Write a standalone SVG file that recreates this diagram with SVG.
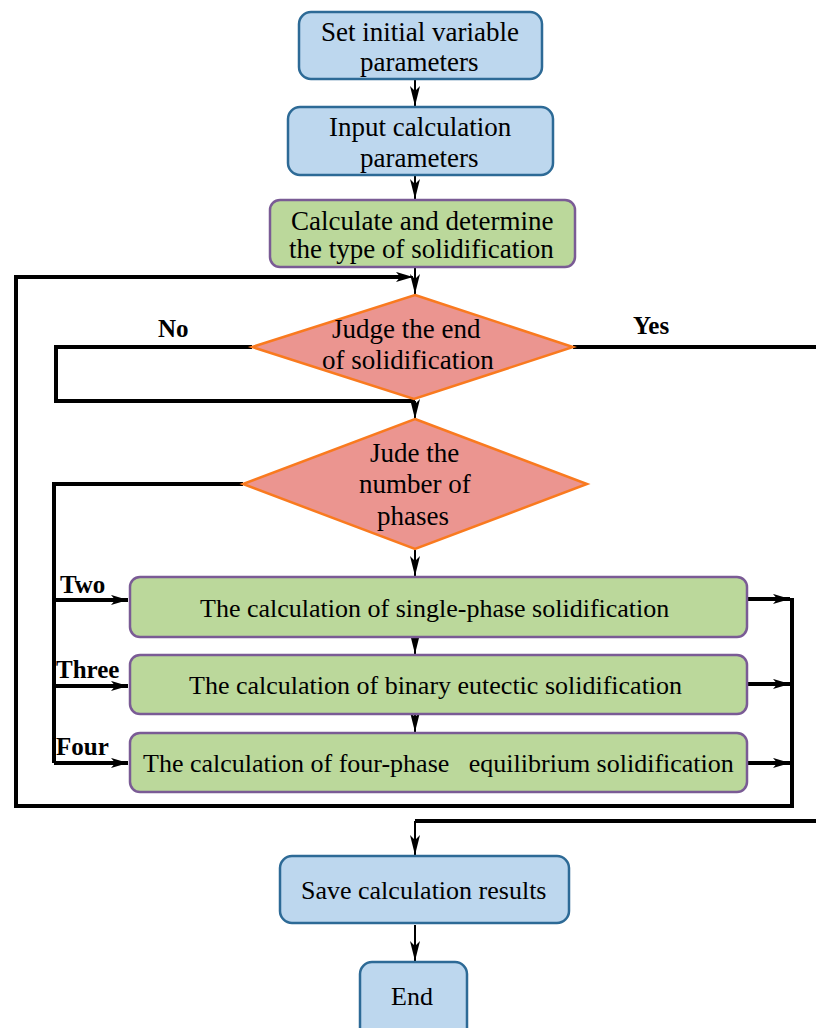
<svg xmlns="http://www.w3.org/2000/svg" width="816" height="1028" viewBox="0 0 816 1028">
<style>
.blue{fill:#bdd7ee;stroke:#2d6a96;stroke-width:2.5}
.green{fill:#bbd89b;stroke:#7a5b95;stroke-width:2.5}
.dia{fill:#eb9590;stroke:#f97a1f;stroke-width:2.5}
.thin{fill:none;stroke:#000;stroke-width:2}
.thick{fill:none;stroke:#000;stroke-width:4}
.arr{marker-end:url(#ah)}
</style>
<defs>
<marker id="ah" viewBox="0 0 20 10" markerWidth="20" markerHeight="10" refX="20" refY="5" orient="auto" markerUnits="userSpaceOnUse">
<path d="M0,0 L20,5 L0,10 L5,5 z" fill="#000"/>
</marker>
<marker id="ah2" viewBox="0 0 20 12" markerWidth="17" markerHeight="11" refX="20" refY="6" orient="auto" markerUnits="userSpaceOnUse">
<path d="M0,0 L20,6 L0,12 L5,6 z" fill="#000"/>
</marker>
</defs>
<g id="connectors">
<line class="thin arr" x1="415" y1="80" x2="415" y2="106"/>
<line class="thin arr" x1="415" y1="176" x2="415" y2="199"/>
<line class="thin arr" x1="415" y1="268" x2="415" y2="294"/>
<path class="thick" d="M792,598 V806 H16 V277 H400"/>
<line class="thin" x1="398" y1="277" x2="413" y2="277" stroke-width="3" marker-end="url(#ah2)"/>
<line class="thick" x1="748" y1="599" x2="790" y2="599" stroke-width="3.5" marker-end="url(#ah2)"/>
<line class="thick" x1="748" y1="684" x2="790" y2="684" stroke-width="3.5" marker-end="url(#ah2)"/>
<line class="thick" x1="748" y1="763" x2="790" y2="763" stroke-width="3.5" marker-end="url(#ah2)"/>
<path class="thick" d="M252,347 H56 V401 H415"/>
<line class="thin arr" x1="415" y1="401" x2="415" y2="419"/>
<path class="thick" d="M573,347 H816"/>
<path class="thick" d="M816,821 H415"/>
<line class="thin arr" x1="415" y1="821" x2="415" y2="855"/>
<path class="thick" d="M243,484 H54 V763"/>
<line class="thick" x1="54" y1="600" x2="128" y2="600" stroke-width="3.5" marker-end="url(#ah2)"/>
<line class="thick" x1="54" y1="686" x2="128" y2="686" stroke-width="3.5" marker-end="url(#ah2)"/>
<line class="thick" x1="54" y1="763" x2="128" y2="763" stroke-width="3.5" marker-end="url(#ah2)"/>
<line class="thin arr" x1="415" y1="550" x2="415" y2="576"/>
<line class="thin arr" x1="415" y1="638" x2="415" y2="654"/>
<line class="thin arr" x1="415" y1="715" x2="415" y2="732"/>
<line class="thin arr" x1="415" y1="925" x2="415" y2="961"/>
</g>
<g id="labels" font-family="Liberation Serif" font-size="25" font-weight="bold" fill="#000">
<text x="158" y="337">No</text>
<text x="633" y="334">Yes</text>
<text x="60" y="593">Two</text>
<text x="56" y="678">Three</text>
<text x="56" y="755">Four</text>
</g>
<g id="n1">
<rect class="blue" x="299" y="12" width="243" height="67" rx="12"/>
<text font-family="Liberation Serif" font-size="27" x="321" y="41">Set initial variable</text>
<text font-family="Liberation Serif" font-size="27" x="360" y="71">parameters</text>
</g>
<g id="n2">
<rect class="blue" x="288" y="107" width="265" height="68" rx="12"/>
<text font-family="Liberation Serif" font-size="27" x="329" y="136">Input calculation</text>
<text font-family="Liberation Serif" font-size="27" x="360" y="167">parameters</text>
</g>
<g id="n3">
<rect class="green" x="270" y="200" width="305" height="67" rx="10"/>
<text font-family="Liberation Serif" font-size="27" x="291" y="230">Calculate and determine</text>
<text font-family="Liberation Serif" font-size="27" x="289" y="258">the type of solidification</text>
</g>
<g id="d1">
<polygon class="dia" points="415,295 573,347 414,399 252,347"/>
<text font-family="Liberation Serif" font-size="27" x="332" y="338">Judge the end</text>
<text font-family="Liberation Serif" font-size="27" x="322" y="369">of solidification</text>
</g>
<g id="d2">
<polygon class="dia" points="415,419 587,484 415,549 243,484"/>
<text font-family="Liberation Serif" font-size="27" x="370" y="462">Jude the</text>
<text font-family="Liberation Serif" font-size="27" x="359" y="493">number of</text>
<text font-family="Liberation Serif" font-size="27" x="377" y="525">phases</text>
</g>
<g id="n4">
<rect class="green" x="130" y="577" width="617" height="60" rx="10"/>
<text font-family="Liberation Serif" font-size="26" x="200" y="617">The calculation of single-phase solidification</text>
</g>
<g id="n5">
<rect class="green" x="130" y="655" width="617" height="59" rx="10"/>
<text font-family="Liberation Serif" font-size="26" x="189" y="694">The calculation of binary eutectic solidification</text>
</g>
<g id="n6">
<rect class="green" x="130" y="733" width="617" height="59" rx="10"/>
<text font-family="Liberation Serif" font-size="26" x="143" y="772" xml:space="preserve">The calculation of four-phase   equilibrium solidification</text>
</g>
<g id="n7">
<rect class="blue" x="280" y="856" width="289" height="67" rx="12"/>
<text font-family="Liberation Serif" font-size="26" x="301" y="899">Save calculation results</text>
</g>
<g id="n8">
<rect class="blue" x="360" y="962" width="107" height="80" rx="12"/>
<text font-family="Liberation Serif" font-size="26" x="391" y="1005">End</text>
</g>
</svg>
